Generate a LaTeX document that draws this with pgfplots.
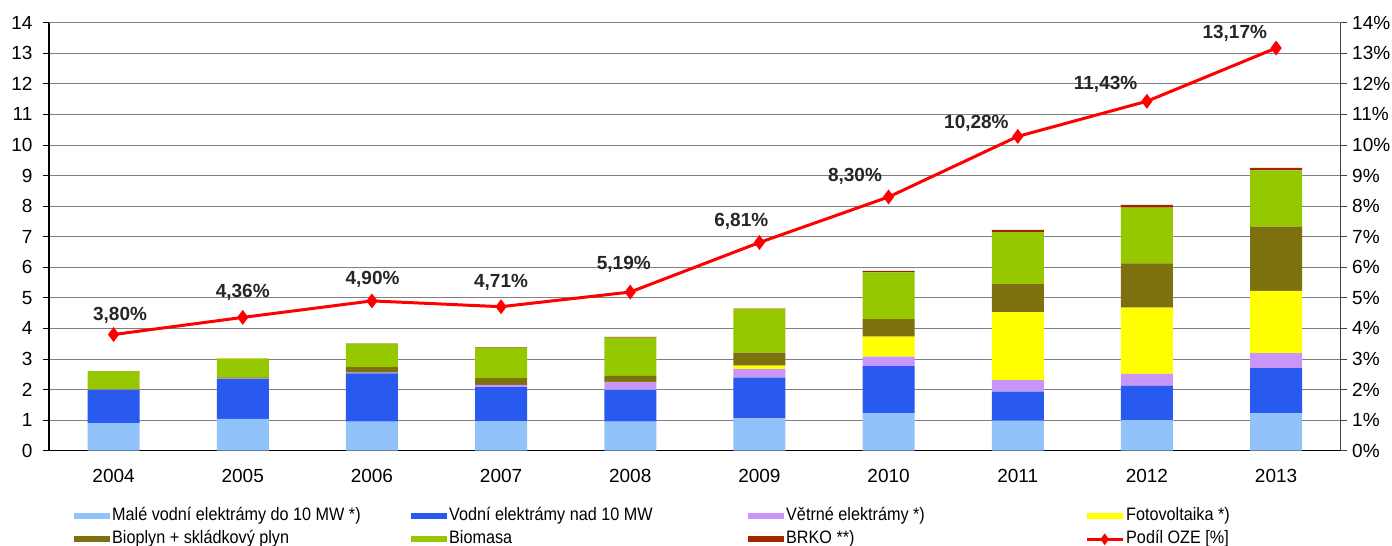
\documentclass[border=0pt]{standalone}
\usepackage{pgfplots}
\pgfplotsset{compat=1.18}
\usepackage{pgfplotstable}
\usepackage{fontspec}
\setmainfont{Liberation Sans}
\newfontfamily\legendfont{Liberation Sans}[FakeStretch=0.9]

\definecolor{cMale}{RGB}{145,195,250}
\definecolor{cVodni}{RGB}{40,90,240}
\definecolor{cVetr}{RGB}{200,150,250}
\definecolor{cFV}{RGB}{255,255,0}
\definecolor{cBioplyn}{RGB}{125,112,15}
\definecolor{cBiomasa}{RGB}{150,200,0}
\definecolor{cBRKO}{RGB}{160,40,0}
\definecolor{cLine}{RGB}{255,0,0}

\pgfplotstableread{
x  male vodni vetr fv   bioplyn biomasa brko
0  0.90 1.09  0.01 0.00 0.01    0.59    0.00
1  1.04 1.30  0.02 0.00 0.04    0.62    0.00
2  0.95 1.58  0.02 0.00 0.18    0.77    0.01
3  0.97 1.11  0.07 0.00 0.22    1.00    0.02
4  0.95 1.04  0.25 0.01 0.20    1.25    0.02
5  1.06 1.33  0.28 0.11 0.43    1.43    0.01
6  1.22 1.55  0.31 0.65 0.57    1.53    0.05
7  0.98 0.95  0.38 2.22 0.92    1.70    0.07
8  1.00 1.12  0.39 2.17 1.45    1.82    0.09
9  1.22 1.48  0.49 2.04 2.10    1.84    0.08
}\energy

\pgfplotstableread{
x  oze
0  3.80
1  4.36
2  4.90
3  4.71
4  5.19
5  6.81
6  8.30
7  10.28
8  11.43
9  13.17
}\podil

\pgfplotstableread{
lx    ly    val
0.05  4.44  3.80
1.00  5.18  4.36
2.005 5.59  4.90
3.00  5.50  4.71
3.95  6.08  5.19
4.86  7.50  6.81
5.74  8.97  8.30
6.68  10.72 10.28
7.68  11.97 11.43
8.68  13.66 13.17
}\labels

\pgfplotsset{
  /pgf/number format/assume math mode=true,
  barleg/.style={legend image code/.code={\fill[##1] (0pt,-3pt) rectangle (36pt,3pt);}},
  lineleg/.style={legend image code/.code={%
    \draw[cLine, line width=3pt] (0pt,0pt) -- (36pt,0pt);
    \fill[cLine] (18pt,5.5pt) -- (22pt,0pt) -- (18pt,-5.5pt) -- (14pt,0pt) -- cycle;}},
  common/.style={
    at={(49pt,95.3pt)}, anchor=south west,
    scale only axis, width=1291.7pt, height=428pt,
    xmin=-0.5, xmax=9.5, ymin=0, ymax=14,
    ytick={0,1,...,14},
    tick align=outside, major tick length=6pt,
    tick label style={font=\fontsize{19}{22}\selectfont},
  },
}

\newcommand{\lt}[1]{\makebox[299pt][l]{#1}}

\begin{document}
\begin{tikzpicture}
\path[use as bounding box] (0pt,0pt) rectangle (1392pt,546pt);

\begin{axis}[
  common,
  ybar stacked, bar width=52pt,
  xtick={0,...,9},
  xticklabels={2004,2005,2006,2007,2008,2009,2010,2011,2012,2013},
  x tick style={draw=none},
  xticklabel style={yshift=-9pt},
  yticklabel style={xshift=-7pt},
  axis x line*=bottom, axis y line*=left,
  x axis line style={-, black, line width=1.4pt},
  y axis line style={-, black, line width=1.2pt},
  y tick style={black, line width=0.8pt},
  ymajorgrids, grid style={black!50, line width=0.8pt},
  legend columns=4,
  legend cell align=left,
  legend style={
    at={(0.01935,-0.1328)}, anchor=north west,
    draw=none, fill=none, inner sep=0pt,
    font=\legendfont\fontsize{18}{20}\selectfont,
    nodes={inner sep=0pt, text height=13pt, text depth=4pt},
    row sep=6pt,
    /tikz/every odd column/.append style={column sep=2pt},
  },
]
\addplot[fill=cMale, draw=none, barleg] table[x=x, y=male] {\energy};
\addlegendentry{\lt{Malé vodní elektrámy do 10 MW *)}}
\addplot[fill=cVodni, draw=none, barleg] table[x=x, y=vodni] {\energy};
\addlegendentry{\lt{Vodní elektrámy nad 10 MW}}
\addplot[fill=cVetr, draw=none, barleg] table[x=x, y=vetr] {\energy};
\addlegendentry{\lt{Větrné elektrámy *)}}
\addplot[fill=cFV, draw=none, barleg] table[x=x, y=fv] {\energy};
\addlegendentry{\lt{Fotovoltaika *)}}
\addplot[fill=cBioplyn, draw=none, barleg] table[x=x, y=bioplyn] {\energy};
\addlegendentry{\lt{Bioplyn + skládkový plyn}}
\addplot[fill=cBiomasa, draw=none, barleg] table[x=x, y=biomasa] {\energy};
\addlegendentry{\lt{Biomasa}}
\addplot[fill=cBRKO, draw=none, barleg] table[x=x, y=brko] {\energy};
\addlegendentry{\lt{BRKO **)}}
\addlegendimage{cLine, lineleg}
\addlegendentry{\lt{Podíl OZE [\%]}}
\end{axis}

\begin{axis}[
  common,
  axis x line=none,
  axis y line*=right,
  y axis line style={-, black!75, line width=1.2pt},
  y tick style={black!75, line width=0.8pt},
  yticklabel style={xshift=2pt},
  yticklabel={\pgfmathprintnumber{\tick}\%},
]
\addplot[cLine, line width=3pt, mark=diamond*, mark size=5pt] table[x=x, y=oze] {\podil};
\addplot[draw=none, mark=none,
  nodes near coords={\pgfmathprintnumber[fixed,fixed zerofill,precision=2,use comma]{\pgfplotspointmeta}\%},
  point meta=explicit,
  every node near coord/.style={anchor=center, font=\bfseries\fontsize{19}{22}\selectfont, text=black!85}]
  table[x=lx, y=ly, meta=val] {\labels};
\end{axis}
\end{tikzpicture}
\end{document}
